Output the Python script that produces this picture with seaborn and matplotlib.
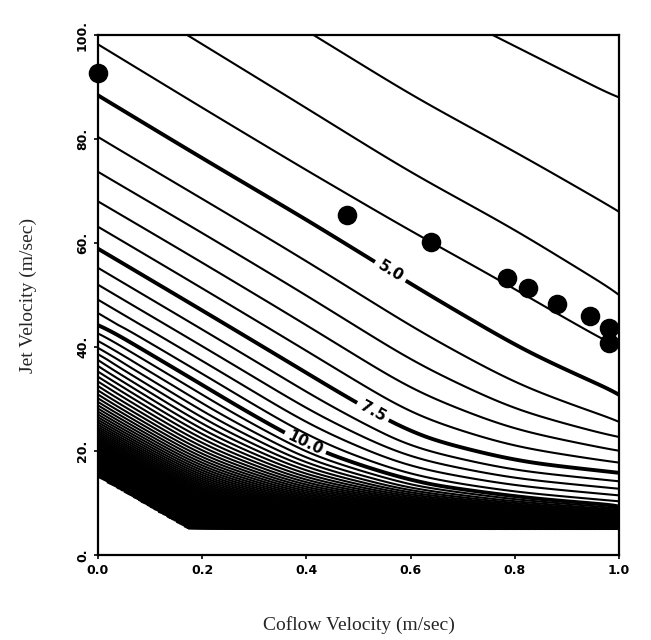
import numpy as np
import pandas as pd
import seaborn as sns
from matplotlib import pyplot as plt

coflow_stations = [0.0, 0.2, 0.4, 0.6, 0.8, 1.0]

# Contour levels that were traced
traced_levels = [2.5, 3.0, 3.5, 4.0, 4.5, 5.0, 5.5, 6.0, 7.5, 10.0, 12.5, 15.0, 20.0, 30.0, 60.0]

# Jet velocity (m/sec) of each traced level at each coflow station
jet_at_level = [
    [176.8, 160.0, 146.0, 134.0, 123.0, 112.0], # 2.5 (off the chart)
    [147.3, 132.0, 118.0, 108.0, 98.0, 88.0],   # 3.0
    [126.3, 113.5, 101.0, 88.5, 77.5, 66.0],    # 3.5
    [110.5, 98.3, 86.0, 73.5, 62.5, 50.0],      # 4.0
    [98.2, 86.0, 74.0, 62.5, 51.5, 40.0],       # 4.5
    [88.4, 76.3, 64.5, 52.0, 40.0, 30.8],       # 5.0
    [80.4, 68.5, 56.5, 44.0, 33.0, 25.6],       # 5.5
    [73.7, 62.0, 50.0, 37.5, 28.0, 22.7],       # 6.0
    [58.9, 47.0, 35.0, 23.0, 18.0, 15.8],       # 7.5
    [44.2, 32.5, 20.5, 13.8, 11.0, 9.3],        # 10.0
    [37.5, 25.0, 16.0, 11.5, 9.4, 8.0],         # 12.5
    [32.5, 20.5, 13.3, 10.2, 8.4, 7.2],         # 15.0
    [26.0, 15.0, 10.0, 8.5, 7.2, 6.3],          # 20.0
    [19.5, 9.0, 7.5, 6.8, 6.0, 5.6],            # 30.0
    [13.0, 5.0, 5.0, 5.0, 5.0, 4.8],            # 60.0
]

# Lower edge of the computed region
floor_coflow = [0.0, 0.177, 1.0]
floor_jet = [15.0, 4.8, 5.0]

# Labelled (bold) contours
bold_levels = [5.0, 7.5, 10.0]
label_coflow = [0.56, 0.526, 0.394]
label_jet = [54.4, 27.3, 20.8]

# Measured points
point_coflow = [0.0, 0.478, 0.639, 0.785, 0.825, 0.881, 0.944, 0.981, 0.981]
point_jet = [92.7, 65.4, 60.2, 53.3, 51.3, 48.3, 46.0, 43.6, 40.8]

x_ticks = [0.0, 0.2, 0.4, 0.6, 0.8, 1.0]
x_tick_labels = ["0.0", "0.2", "0.4", "0.6", "0.8", "1.0"]
y_ticks = [0, 20, 40, 60, 80, 100]
y_tick_labels = ["0.", "20.", "40.", "60.", "80.", "100."]


def smooth_x(a, sigma):
    # gaussian smoothing along the coflow direction, odd reflection at the edges
    r = int(3 * sigma)
    k = np.exp(-0.5 * (np.arange(-r, r + 1) / sigma) ** 2)
    k /= k.sum()
    padded = np.pad(a, ((0, 0), (r, r)), mode='reflect', reflect_type='odd')
    return np.array([np.convolve(row, k, mode='valid') for row in padded])


def build_field():
    xg = np.linspace(0, 1, 401)
    ug = np.linspace(0, 100, 801)
    inv_lev = 1.0 / np.array(traced_levels)
    tab = np.array(jet_at_level)
    inv_field = np.empty((len(ug), len(xg)))
    for j, xv in enumerate(xg):
        u_lev = np.array([np.interp(xv, coflow_stations, row) for row in tab])
        inv_field[:, j] = np.interp(ug, u_lev[::-1], inv_lev[::-1])
    inv_field = smooth_x(inv_field, 22)
    field = 1.0 / np.clip(inv_field, 1e-3, None)
    floor = np.interp(xg, floor_coflow, floor_jet)
    mask = ug[:, None] < floor[None, :]
    return xg, ug, np.ma.masked_where(mask, field)


sns.set_style("ticks")
plt.rcParams['font.family'] = ['DejaVu Sans']

fig = plt.figure(figsize=(6.51, 6.40), dpi=100)
ax = fig.add_axes([0.1505, 0.1328, 0.8005, 0.8125])

xg, ug, field = build_field()
all_levels = np.arange(3.0, 60.01, 0.5)
thin_levels = [lv for lv in all_levels if lv not in bold_levels]
ax.contour(xg, ug, field, levels=thin_levels, colors='black', linewidths=1.5)
cs = ax.contour(xg, ug, field, levels=bold_levels, colors='black', linewidths=2.8)
labels = ax.clabel(cs, fmt='%.1f', fontsize=11, inline=True, inline_spacing=6,
                   manual=list(zip(label_coflow, label_jet)))
for t in labels:
    t.set_fontweight('bold')

pts = pd.DataFrame({'coflow': point_coflow, 'jet': point_jet})
sns.scatterplot(data=pts, x='coflow', y='jet', s=170, color='black',
                edgecolor='black', zorder=5, clip_on=False, ax=ax, legend=False)

ax.set_xlim(0, 1.0)
ax.set_ylim(0, 100)
ax.set_xticks(x_ticks)
ax.set_xticklabels(x_tick_labels, fontsize=9, fontweight='bold')
ax.set_yticks(y_ticks)
ax.set_yticklabels(y_tick_labels, fontsize=9, fontweight='bold', rotation=90, va='center')
ax.tick_params(direction='out', length=3, width=1.2, colors='black')
for s in ax.spines.values():
    s.set_linewidth(1.6)
    s.set_color('black')

ax.set_xlabel("Coflow Velocity (m/sec)", fontsize=14, family='Liberation Serif', labelpad=28)
ax.set_ylabel("Jet Velocity (m/sec)", fontsize=14, family='Liberation Serif', labelpad=28)

fig.savefig("out.png", dpi=100, facecolor='white')
